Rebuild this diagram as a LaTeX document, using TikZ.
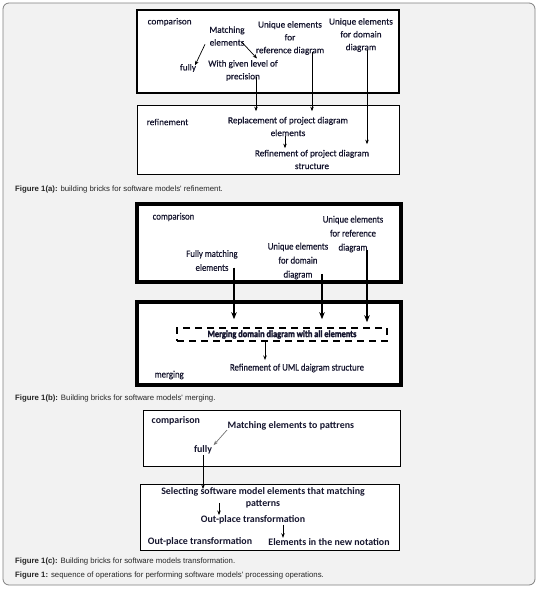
\documentclass[tikz,border=0pt]{standalone}
\usepackage{fontspec}
\setmainfont{Carlito}
\newfontfamily\capfont{Liberation Sans}
\newfontfamily\softfont[FakeBold=0.4]{Carlito}
\newfontfamily\narrowfont[FakeStretch=0.88,FakeBold=0.4]{Carlito}
\newfontfamily\heavyfont[FakeStretch=0.86,FakeBold=2.2]{Carlito Bold}
\usetikzlibrary{arrows.meta,calc}
\definecolor{txt}{HTML}{15152E}
\definecolor{bgc}{HTML}{F2F2F2}
\definecolor{framec}{HTML}{808080}
\begin{document}
\begin{tikzpicture}[x=1pt,y=-1pt,
  lblA/.style={inner sep=0.5pt, align=center, text=txt, font=\softfont\fontsize{9.2}{12.8}\selectfont},
  lblB/.style={inner sep=0.5pt, align=center, text=txt, font=\narrowfont\fontsize{9.9}{14}\selectfont},
  lblC/.style={inner sep=0.5pt, align=center, text=txt, font=\bfseries\fontsize{9.9}{12}\selectfont},
  capt/.style={inner sep=0pt, anchor=west, text=black!85, font=\capfont\fontsize{7.8}{9}\selectfont},
  boxthin/.style={draw=black, fill=white, line width=1pt, inner sep=0pt},
  boxmid/.style={draw=black, fill=white, line width=1.8pt, inner sep=0pt},
  boxthick/.style={draw=black, fill=white, line width=3.5pt, inner sep=0pt},
  conA/.style={draw=black, line width=0.7pt, -{Stealth[length=4.5pt,width=3.5pt]}},
  conB/.style={draw=black, line width=2.2pt, -{Stealth[length=7pt,width=5.5pt]}},
  conG/.style={draw=black!55, line width=0.7pt, -{Stealth[length=4.5pt,width=3.5pt]}}
]
\useasboundingbox (0,0) rectangle (542,592);
\fill[white] (0,0) rectangle (542,592);
\draw[framec, fill=bgc, line width=0.8pt, rounded corners=6pt] (3,3) rectangle (535,585);

% ---------- Figure 1(a)
\node[boxmid, minimum width=262, minimum height=83] (boxA1) at (268,51.5) {};
\node[boxthin, minimum width=262, minimum height=69] (boxA2) at (268,139.5) {};
\node[lblA, anchor=west] (cA) at (147,22) {comparison};
\node[lblA] (mA) at (227,36) {Matching\\elements};
\node[lblA] (fA) at (188,68) {fully};
\node[lblA] (wA) at (243,70.5) {With given level of\\precision};
\node[lblA] (urA) at (290,38) {Unique elements\\for\\reference diagram};
\node[lblA] (udA) at (361,35) {Unique elements\\for domain\\diagram};
\node[lblA, anchor=west] (rA) at (146,122) {refinement};
\node[lblA] (rpA) at (288,126.5) {Replacement of project diagram\\elements};
\node[lblA] (rfA) at (312,159.5) {Refinement of project diagram\\structure};

\draw[conA] ($(mA.south)+(-22,-2)$) -- ($(fA.north)+(7,2)$);
\draw[conA] ($(mA.south)+(15,-4)$) -- ($(wA.north)+(14,-1)$);
\draw[conA] ($(wA.south)+(13,-5)$) -- ($(rpA.north)+(-32,-5)$);
\draw[conA] ($(urA.south)+(22,-3)$) -- ($(rpA.north)+(24,-5)$);
\draw[conA] ($(udA.south)+(6,-2)$) -- ($(rfA.north)+(55,-5)$);
\draw[conA] ($(rpA.south)+(-3,-1)$) -- ($(rfA.north)+(-27,-1)$);

\node[capt] (capA) at (15,189) {\textbf{Figure 1(a):} building bricks for software models' refinement.};

% ---------- Figure 1(b)
\node[boxthick, minimum width=264, minimum height=78] (boxB1) at (269,243) {};
\node[boxthick, minimum width=264, minimum height=83] (boxB2) at (269,343.5) {};
\node[lblB, anchor=west] (cB) at (152,217) {comparison};
\node[lblB] (fmB) at (212,260.5) {Fully matching\\elements};
\node[lblB] (udB) at (298,261) {Unique elements\\for domain\\diagram};
\node[lblB] (urB) at (353,234) {Unique elements\\for reference\\diagram};
\node[lblB, draw=black, line width=1.6pt, dash pattern=on 7pt off 5pt, minimum width=210, minimum height=13, font=\heavyfont\fontsize{9.7}{11}\selectfont] (mgB) at (282,334.5) {Merging domain diagram with all elements};
\node[lblB] (rfB) at (297,368) {Refinement of UML daigram structure};
\node[lblB, anchor=west] (mB) at (154,375) {merging};

\draw[conB] ($(fmB.south)+(22,-4)$) -- ($(mgB.north)+(-48,-8)$);
\draw[conB] ($(udB.south)+(24,-6)$) -- ($(mgB.north)+(40,-8)$);
\draw[conB] ($(urB.south)+(14,-3)$) -- ($(mgB.north)+(85,-5)$);
\draw[conA, line width=0.9pt] ($(mgB.south)+(-17,0)$) -- ($(rfB.north)+(-32,-3)$);

\node[capt] (capB) at (15,398) {\textbf{Figure 1(b):} Building bricks for software models' merging.};

% ---------- Figure 1(c)
\node[boxthin, minimum width=257, minimum height=56] (boxC1) at (271.5,438) {};
\node[boxthin, minimum width=259, minimum height=66] (boxC2) at (269.5,517) {};
\node[lblC, anchor=west] (cC) at (151,421) {comparison};
\node[lblC, anchor=west] (mpC) at (227,426) {Matching elements to pattrens};
\node[lblC] (fC) at (203,450) {fully};
\node[lblC] (slC) at (263,498) {Selecting software model elements that matching\\patterns};
\node[lblC] (op1C) at (253,520) {Out-place transformation};
\node[lblC] (op2C) at (200,542) {Out-place transformation};
\node[lblC] (enC) at (329,542) {Elements in the new notation};

\draw[conG] ($(mpC.south west)+(0,-1)$) -- ($(fC.north east)+(1,0)$);
\draw[conA] (fC.south) -- ($(slC.north)+(-60,2)$);
\draw[conA] ($(slC.south)+(-44,-6)$) -- ($(op1C.north)+(-34,0)$);
\draw[conA] ($(op1C.south)+(30,0)$) -- ($(enC.north)+(-46,0)$);

\node[capt] (capC) at (15,561) {\textbf{Figure 1(c):} Building bricks for software models transformation.};
\node[capt] (capD) at (15,575) {\textbf{Figure 1:} sequence of operations for performing software models' processing operations.};
\end{tikzpicture}
\end{document}
